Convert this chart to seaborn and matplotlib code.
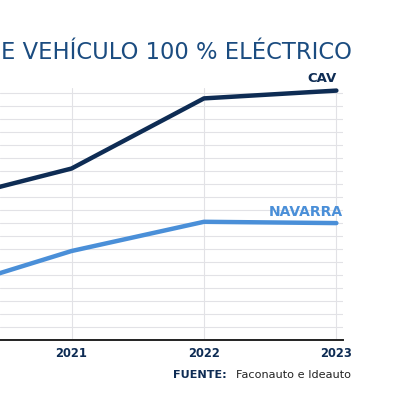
import pandas as pd
import numpy as np
import seaborn as sns
import matplotlib.pyplot as plt

years = [2020, 2021, 2022, 2023]
cav = [10.6, 13.2, 18.6, 19.2]
navarra = [3.7, 6.85, 9.1, 9.0]
tick_years = [2021, 2022, 2023]

title = "E VEHÍCULO 100 % ELÉCTRICO"
source_bold = "FUENTE:"
source_text = "Faconauto e Ideauto"

NAVY = "#0e2c54"
TITLE_BLUE = "#1b4c80"
LIGHT_BLUE = "#4a8fd8"

sns.set_style("white")
plt.rcParams['font.family'] = ['DejaVu Sans']

df = pd.DataFrame({
    'year': years * 2,
    'value': cav + navarra,
    'region': ['CAV'] * len(years) + ['NAVARRA'] * len(years),
})

fig = plt.figure(figsize=(4, 4), dpi=100)
ax = fig.add_axes([0, 0.15, 0.8575, 0.63])

sns.lineplot(data=df, x='year', y='value', hue='region',
             palette={'CAV': NAVY, 'NAVARRA': LIGHT_BLUE},
             linewidth=3.2, legend=False, ax=ax,
             solid_capstyle='round')

ax.set_xlim(2020.46, 2023.05)
ax.set_ylim(0, 19.4)
ax.set_yticks(np.arange(0, 20, 1))
ax.set_yticklabels([])
ax.set_xticks(tick_years)
ax.set_xticklabels([str(y) for y in tick_years], fontsize=8.3,
                   fontweight='bold', color=NAVY)
ax.tick_params(axis='both', length=0, pad=5)
ax.set_xlabel('')
ax.set_ylabel('')
ax.grid(True, color='#e2e2e6', linewidth=0.8)
ax.set_axisbelow(True)
for s in ['left', 'right', 'top']:
    ax.spines[s].set_visible(False)
ax.spines['bottom'].set_color('#222222')
ax.spines['bottom'].set_linewidth(1.4)

ax.text(2023.0, 20.1, 'CAV', ha='right', va='center', fontsize=9.5,
        fontweight='bold', color=NAVY, clip_on=False)
ax.text(2023.05, 9.85, 'NAVARRA', ha='right', va='center', fontsize=10,
        fontweight='bold', color=LIGHT_BLUE)

fig.text(0.002, 0.868, title, ha='left', va='center', fontsize=16.3,
         color=TITLE_BLUE)
fig.text(0.432, 0.062, source_bold, ha='left', va='center', fontsize=8.1,
         fontweight='bold', color=NAVY)
fig.text(0.589, 0.062, source_text, ha='left', va='center', fontsize=8.1,
         color='#222222')

fig.savefig('out.png', dpi=100, facecolor='white')
